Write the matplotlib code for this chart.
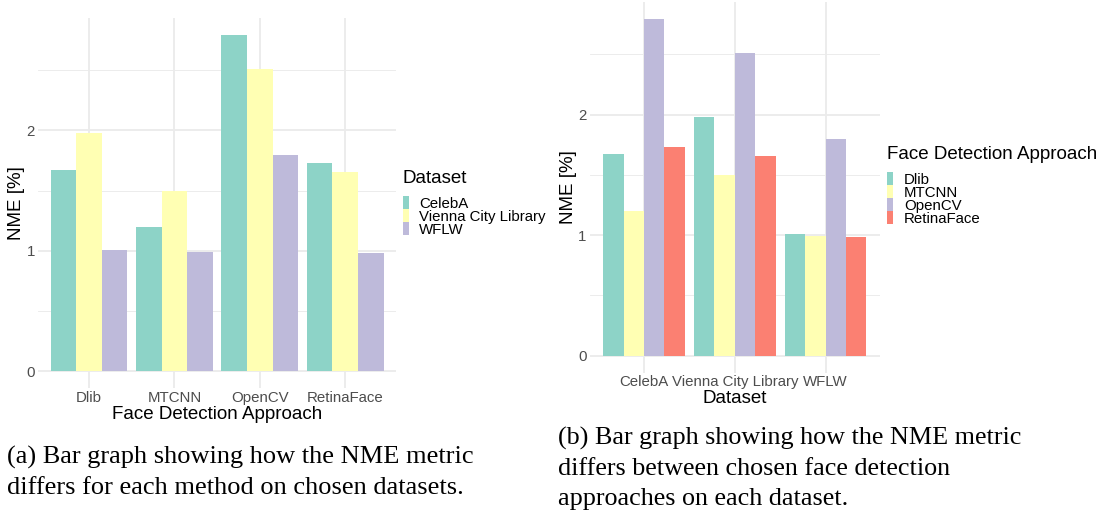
import matplotlib
matplotlib.use("Agg")
import matplotlib.pyplot as plt
from matplotlib.patches import Patch
from matplotlib.ticker import MultipleLocator

# data (NME in %)
methods = ["Dlib", "MTCNN", "OpenCV", "RetinaFace"]
datasets = ["CelebA", "Vienna City Library", "WFLW"]
nme_celeba = [1.672, 1.198, 2.795, 1.730]
nme_vienna = [1.977, 1.498, 2.510, 1.656]
nme_wflw = [1.010, 0.992, 1.800, 0.986]

set3 = ["#8DD3C7", "#FFFFB3", "#BEBADA", "#FB8072"]
W, H = 1105, 520
SANS = "Liberation Sans"
SERIF = "Liberation Serif"
TICK_FS = 10.8
TITLE_FS = 13.5


def style_axes(ax, ncat):
    for s in ax.spines.values():
        s.set_visible(False)
    ax.set_facecolor("white")
    ax.set_axisbelow(True)
    ax.yaxis.set_major_locator(MultipleLocator(1))
    ax.yaxis.set_minor_locator(MultipleLocator(0.5))
    ax.grid(which="major", color="#EBEBEB", linewidth=1.3)
    ax.grid(which="minor", axis="y", color="#EBEBEB", linewidth=0.65)
    ax.tick_params(which="both", length=0, labelsize=TICK_FS, labelcolor="#4D4D4D", pad=2)
    ax.set_xlim(-0.6, ncat - 1 + 0.6)
    for lab in ax.get_xticklabels() + ax.get_yticklabels():
        lab.set_family(SANS)


def grouped_bars(ax, cats, series, colors):
    n = len(series)
    bw = 0.9 / n
    for i, vals in enumerate(series):
        xs = [c - 0.45 + bw * (i + 0.5) for c in range(len(cats))]
        ax.bar(xs, vals, width=bw, color=colors[i], linewidth=0)
    top = max(max(v) for v in series)
    ax.set_ylim(-0.05 * top, top * 1.05)
    ax.set_xticks(range(len(cats)))
    ax.set_xticklabels(cats)


def add_legend(ax, title, labels, colors, x_px, top_px):
    handles = [Patch(facecolor=c, edgecolor="none") for c in colors]
    leg = ax.legend(handles, labels, title=title, loc="upper left",
                    bbox_to_anchor=(x_px / W, 1 - top_px / H),
                    bbox_transform=ax.figure.transFigure,
                    frameon=False, borderpad=0, borderaxespad=0,
                    handlelength=0.4, handleheight=0.93, handletextpad=0.7,
                    labelspacing=-0.1, alignment="left",
                    prop={"family": SANS, "size": TICK_FS},
                    title_fontproperties={"family": SANS, "size": TITLE_FS})
    # gap between title and keys (points); rows themselves stay tight
    leg._legend_box.sep = 6.5
    return leg


fig = plt.figure(figsize=(W / 100, H / 100), dpi=100)

# (a) methods on x, datasets as fill
ax1 = fig.add_axes([37.8 / W, 1 - 388 / H, 358.7 / W, 370 / H])
grouped_bars(ax1, methods, [nme_celeba, nme_vienna, nme_wflw], set3[:3])
style_axes(ax1, len(methods))
ax1.set_xlabel("Face Detection Approach", fontsize=TITLE_FS, family=SANS)
ax1.xaxis.set_label_coords(0.5, -0.084)
ax1.xaxis.label.set_va("baseline")
ax1.set_ylabel("NME [%]", fontsize=TITLE_FS, family=SANS)
ax1.yaxis.set_label_coords(-0.059, 0.5)
ax1.yaxis.label.set_va("center")
add_legend(ax1, "Dataset", datasets, set3[:3], 402.7, 170)

# (b) datasets on x, methods as fill
ax2 = fig.add_axes([589.5 / W, 1 - 372.5 / H, 290.5 / W, 370.5 / H])
by_method = [list(v) for v in zip(nme_celeba, nme_vienna, nme_wflw)]
grouped_bars(ax2, datasets, by_method, set3)
style_axes(ax2, len(datasets))
ax2.set_xlabel("Dataset", fontsize=TITLE_FS, family=SANS)
ax2.xaxis.set_label_coords(0.5, -0.0815)
ax2.xaxis.label.set_va("baseline")
ax2.set_ylabel("NME [%]", fontsize=TITLE_FS, family=SANS)
ax2.yaxis.set_label_coords(-0.073, 0.5)
ax2.yaxis.label.set_va("center")
add_legend(ax2, "Face Detection Approach", methods, set3, 887.3, 146)

# captions
cap_a = ["(a) Bar graph showing how the NME metric",
         "differs for each method on chosen datasets."]
cap_b = ["(b) Bar graph showing how the NME metric",
         "differs between chosen face detection",
         "approaches on each dataset."]
for i, line in enumerate(cap_a):
    fig.text(7 / W, 1 - (463.3 + 30.7 * i) / H, line, family=SERIF, fontsize=19,
             va="baseline", ha="left")
for i, line in enumerate(cap_b):
    fig.text(558 / W, 1 - (445 + 30 * i) / H, line, family=SERIF, fontsize=18.8,
             va="baseline", ha="left")

fig.savefig("out.png", dpi=100, facecolor="white")
